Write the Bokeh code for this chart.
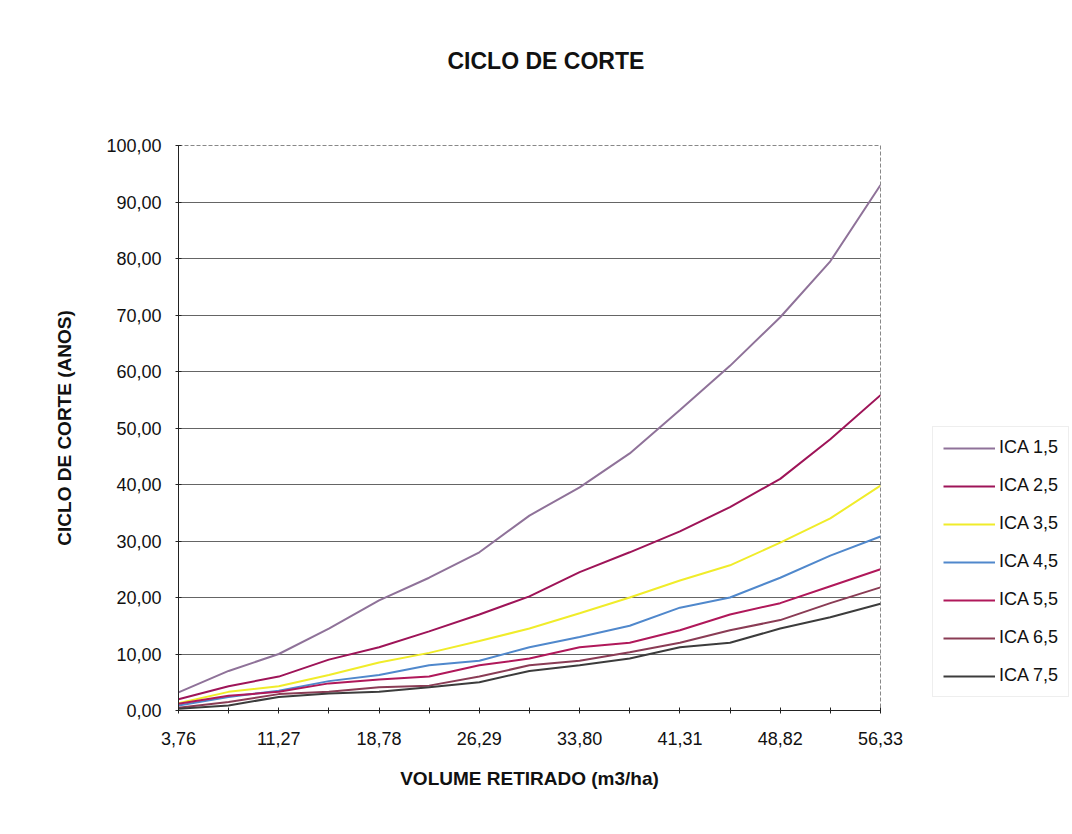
from bokeh.plotting import figure
from bokeh.layouts import row
from bokeh.models import FixedTicker, Legend, LegendItem, Range1d, Title
from bokeh.embed import file_html
from bokeh.resources import INLINE

# Volume removed per hectare (m3/ha)
volume = [3.76, 7.51, 11.27, 15.02, 18.78, 22.53, 26.29, 30.04,
          33.80, 37.55, 41.31, 45.06, 48.82, 52.57, 56.33]

# Cutting cycle (years) for each ICA class
ica_1_5 = [3.2, 7.0, 10.0, 14.5, 19.5, 23.5, 28.0, 34.5, 39.5, 45.5, 53.2, 61.0, 69.6, 79.5, 93.0]
ica_2_5 = [2.0, 4.3, 6.0, 9.0, 11.2, 14.0, 17.0, 20.2, 24.5, 28.0, 31.7, 36.0, 41.0, 48.0, 55.8]
ica_3_5 = [1.3, 3.3, 4.3, 6.3, 8.5, 10.2, 12.3, 14.5, 17.2, 20.0, 23.0, 25.7, 29.7, 34.0, 39.8]
ica_4_5 = [0.9, 2.4, 3.5, 5.2, 6.3, 8.0, 8.8, 11.2, 13.0, 15.0, 18.2, 20.0, 23.5, 27.4, 30.8]
ica_5_5 = [1.2, 2.6, 3.3, 4.8, 5.5, 6.0, 8.0, 9.2, 11.2, 12.0, 14.2, 17.0, 19.0, 22.0, 25.0]
ica_6_5 = [0.5, 1.5, 2.9, 3.3, 4.1, 4.4, 6.0, 8.0, 8.8, 10.3, 12.0, 14.2, 16.0, 19.0, 21.8]
ica_7_5 = [0.3, 0.9, 2.4, 3.0, 3.3, 4.1, 5.0, 7.0, 8.0, 9.2, 11.2, 12.0, 14.5, 16.5, 18.9]

series_names = ["ICA 1,5", "ICA 2,5", "ICA 3,5", "ICA 4,5", "ICA 5,5", "ICA 6,5", "ICA 7,5"]
series_values = [ica_1_5, ica_2_5, ica_3_5, ica_4_5, ica_5_5, ica_6_5, ica_7_5]
series_colors = ["#8f7299", "#9e1458", "#f0ec2a", "#5088cc", "#b0185a", "#8a3c55", "#3c3c3c"]

y_ticks = [0, 10, 20, 30, 40, 50, 60, 70, 80, 90, 100]

FONT = "Liberation Sans"

p = figure(width=930, height=834, output_backend="svg", toolbar_location=None,
           x_range=Range1d(volume[0], volume[-1]), y_range=Range1d(0, 100),
           min_border_left=178, min_border_right=50,
           min_border_top=145, min_border_bottom=124,
           background_fill_color="white", border_fill_color="white")

p.title.text = "CICLO DE CORTE"
p.title.text_font = FONT
p.title.text_font_size = "23px"
p.title.text_font_style = "bold"
p.title.text_color = "#111111"
p.title.align = "left"
p.title.offset = 269
p.title.standoff = 10

# blank spacer between the heading and the plot frame
spacer = Title(text=" ", text_font_size="10px", standoff=54)
p.add_layout(spacer, "above")

p.outline_line_color = "#888888"
p.outline_line_dash = "4 2"

# axes
p.xaxis.ticker = FixedTicker(ticks=volume)
p.xaxis.major_label_overrides = {
    v: (f"{v:.2f}".replace(".", ",") if i % 2 == 0 else "") for i, v in enumerate(volume)
}
p.yaxis.ticker = FixedTicker(ticks=y_ticks)
p.yaxis.major_label_overrides = {t: f"{t:.2f}".replace(".", ",") for t in y_ticks}

for ax in (p.xaxis[0], p.yaxis[0]):
    ax.axis_line_color = "#222222"
    ax.major_tick_line_color = "#222222"
    ax.major_tick_in = 3
    ax.major_tick_out = 3
    ax.minor_tick_line_color = None
    ax.major_label_text_font = FONT
    ax.major_label_text_font_size = "18px"
    ax.major_label_text_color = "#111111"
    ax.axis_label_text_font = FONT
    ax.axis_label_text_font_size = "19px"
    ax.axis_label_text_font_style = "bold"
    ax.axis_label_text_color = "#111111"

p.xaxis.axis_label = "VOLUME RETIRADO (m3/ha)"
p.xaxis.major_label_standoff = 18
p.xaxis.axis_label_standoff = 20
p.yaxis.axis_label = "CICLO DE CORTE (ANOS)"
p.yaxis.major_label_standoff = 14
p.yaxis.axis_label_standoff = 28

p.xgrid.grid_line_color = None
p.ygrid.grid_line_color = "#4a4a4a"
p.ygrid.grid_line_width = 1
p.ygrid.grid_line_alpha = 0.85

for vals, color in zip(series_values, series_colors):
    p.line(volume, vals, line_color=color, line_width=2)

# Legend panel to the right of the chart; its ranges keep the sample
# series out of view so only the legend entries show
leg_fig = figure(width=142, height=834, output_backend="svg", toolbar_location=None,
                 x_range=Range1d(-2, -1), y_range=Range1d(-2, -1),
                 min_border=0, background_fill_color="white", border_fill_color="white")
leg_fig.axis.visible = False
leg_fig.grid.visible = False
leg_fig.outline_line_color = None

items = []
for name, vals, color in zip(series_names, series_values, series_colors):
    r = leg_fig.line(volume, vals, line_color=color, line_width=2)
    items.append(LegendItem(label=name, renderers=[r]))

legend = Legend(items=items, location=(2, 13), orientation="vertical",
                glyph_width=52, glyph_height=20, label_height=20,
                spacing=17, padding=10, label_standoff=4,
                label_text_font=FONT, label_text_font_size="18px",
                label_text_color="#111111",
                border_line_color="#dddddd", border_line_width=1,
                background_fill_color="white", background_fill_alpha=1.0)
leg_fig.add_layout(legend, "center")

layout = row(p, leg_fig, spacing=0)
open("out.html", "w").write(file_html(layout, INLINE))
